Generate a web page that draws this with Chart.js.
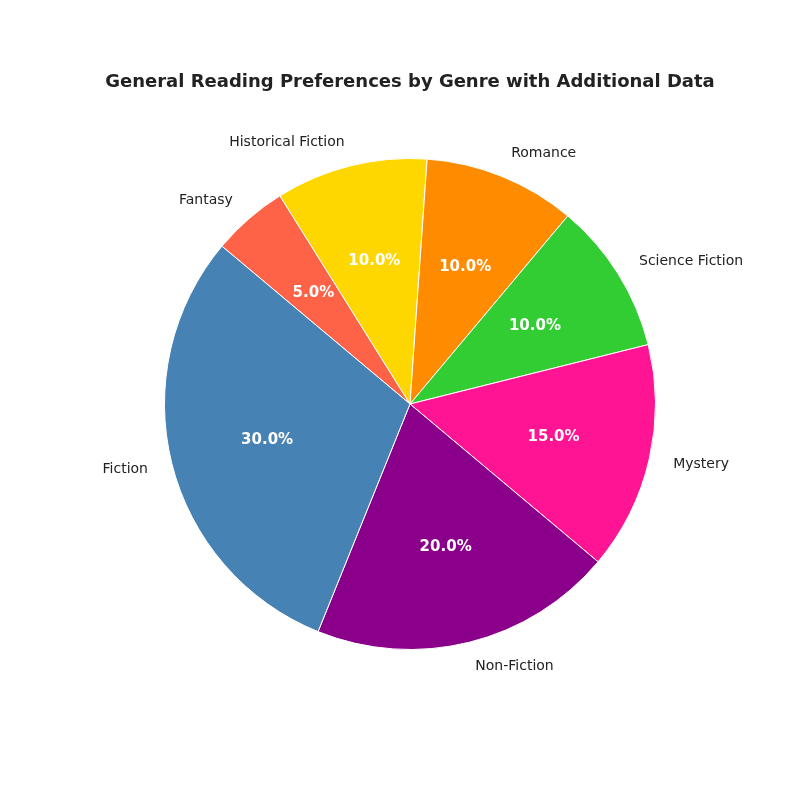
<!DOCTYPE html>
<html>
<head>
<meta charset="utf-8">
<script src="https://cdn.jsdelivr.net/npm/chart.js@4"></script>
<style>
  html, body { margin: 0; background: #fff; }
  #wrap { width: 800px; height: 800px; position: relative; }
</style>
</head>
<body>
<div id="wrap"><canvas id="pie"></canvas></div>
<script>
// clockwise order for Chart.js (matplotlib drew them counter-clockwise)
var genres = ['Fantasy', 'Historical Fiction', 'Romance', 'Science Fiction', 'Mystery', 'Non-Fiction', 'Fiction'];
var shares = [5, 10, 10, 10, 15, 20, 30];
var colors = ['#FF6347', '#FFD700', '#FF8C00', '#32CD32', '#FF1493', '#8B008B', '#4682B4'];
var titleText = 'General Reading Preferences by Genre with Additional Data';

var labelPlugin = {
    id: 'pieLabels',
    afterDraw: function (chart) {
        var ctx = chart.ctx;
        var meta = chart.getDatasetMeta(0);
        var total = shares.reduce(function (a, b) { return a + b; }, 0);
        ctx.save();
        ctx.textAlign = 'center';
        ctx.textBaseline = 'middle';
        ctx.fillStyle = '#222';
        ctx.font = 'bold 18px "DejaVu Sans"';
        ctx.fillText(titleText, 410, 82);
        meta.data.forEach(function (arc, i) {
            var mid = (arc.startAngle + arc.endAngle) / 2;
            var r = arc.outerRadius;
            var cx = arc.x, cy = arc.y;
            var lx = cx + Math.cos(mid) * r * 1.1;
            var ly = cy + Math.sin(mid) * r * 1.1;
            ctx.font = '14px "DejaVu Sans"';
            ctx.fillStyle = '#222';
            ctx.textAlign = Math.cos(mid) > 0.05 ? 'left' : (Math.cos(mid) < -0.05 ? 'right' : 'center');
            ctx.fillText(genres[i], lx, ly);
            ctx.textAlign = 'center';
            ctx.font = 'bold 15px "DejaVu Sans"';
            ctx.fillStyle = '#fff';
            ctx.fillText((shares[i] / total * 100).toFixed(1) + '%',
                cx + Math.cos(mid) * r * 0.6, cy + Math.sin(mid) * r * 0.6);
        });
        ctx.restore();
    }
};

new Chart(document.getElementById('pie').getContext('2d'), {
    type: 'pie',
    data: {
        labels: genres,
        datasets: [{
            data: shares,
            backgroundColor: colors,
            borderColor: '#fff',
            borderWidth: 1
        }]
    },
    options: {
        responsive: true,
        maintainAspectRatio: false,
        animation: false,
        rotation: -50,
        layout: { padding: { top: 158, bottom: 150, left: 164, right: 144 } },
        plugins: {
            legend: { display: false },
            tooltip: { enabled: false }
        }
    },
    plugins: [labelPlugin]
});
</script>
</body>
</html>
